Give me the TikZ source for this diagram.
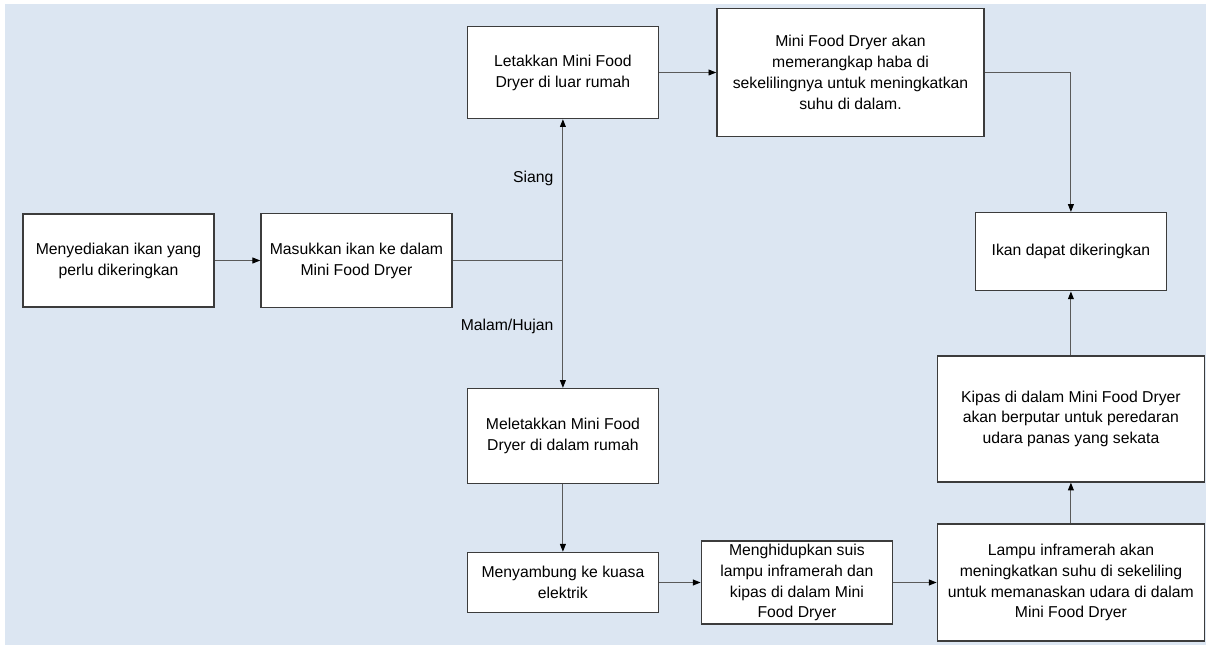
\documentclass[tikz,border=0pt]{standalone}
\usepackage{fontspec}
\setmainfont{Liberation Sans}
\usepackage{tikz}
\usetikzlibrary{arrows.meta}
\definecolor{bgblue}{HTML}{DCE6F2}
\definecolor{linegray}{HTML}{5A5A5A}
\definecolor{boxgray}{HTML}{3C3C3C}

\begin{document}
\begin{tikzpicture}[->,>={Triangle[length=5.5pt,width=4.2pt,color=black]},font=\fontsize{11.2}{14.9}\selectfont,
    conn/.style={draw=linegray,line width=0.7pt},
    flow box/.style={rectangle,draw=boxgray,line width=1.1pt,fill=white,align=center,minimum width=4.775cm,inner sep=2pt},
    wide box/.style={flow box,minimum width=6.675cm}]
    \fill[bgblue] (-2.8375,6.4125) rectangle (27.1875,-9.6125);
    \useasboundingbox (-2.9625,6.5125) rectangle (27.2375,-9.6375);
    \node[flow box,minimum height=2.325cm] (prep) {Menyediakan ikan yang\\perlu dikeringkan};
    \node[flow box,minimum height=2.35cm] (insert) [right of=prep,node distance=5.95cm] {Masukkan ikan ke dalam\\Mini Food Dryer};
    \coordinate[right of=insert,node distance=5.16cm] (split);
    \node[flow box,minimum height=2.3cm] (outside) [above of=split,node distance=4.7cm] {Letakkan Mini Food\\Dryer di luar rumah};
    \node[wide box,minimum height=3.2cm] (trap) [right of=outside,node distance=7.19cm] {Mini Food Dryer akan\\memerangkap haba di\\sekelilingnya untuk meningkatkan\\suhu di dalam.};
    \node[flow box,minimum height=2.375cm] (inside) [below of=split,node distance=4.39cm] {Meletakkan Mini Food\\Dryer di dalam rumah};
    \node[flow box,minimum height=1.5cm] (plug) [below of=inside,node distance=3.66cm] {Menyambung ke kuasa\\elektrik};
    \node[flow box,minimum height=2.025cm] (switch) [right of=plug,node distance=5.85cm] {Menghidupkan suis\\lampu inframerah dan\\kipas di dalam Mini\\Food Dryer};
    \node[wide box,minimum height=2.925cm] (lamp) [right of=switch,node distance=6.85cm] {Lampu inframerah akan\\meningkatkan suhu di sekeliling\\untuk memanaskan udara di dalam\\Mini Food Dryer};
    \node[wide box,minimum height=3.15cm] (fan) [above of=lamp,node distance=4.09cm] {Kipas di dalam Mini Food Dryer\\akan berputar untuk peredaran\\udara panas yang sekata};
    \node[flow box,minimum height=1.95cm] (dry) [above of=fan,node distance=4.18cm] {Ikan dapat dikeringkan};

    \draw[conn] (prep) -- (insert);
    \draw[conn,-] (insert) -- (split);
    \draw[conn] (split) -- node[left=3pt,pos=0.58] {Siang} (outside);
    \draw[conn] (split) -- node[left=3pt,pos=0.52] {Malam/Hujan} (inside);
    \draw[conn] (outside) -- (trap);
    \draw[conn] (trap) -| (dry);
    \draw[conn] (inside) -- (plug);
    \draw[conn] (plug) -- (switch);
    \draw[conn] (switch) -- (lamp);
    \draw[conn] (lamp) -- (fan);
    \draw[conn] (fan) -- (dry);
  \end{tikzpicture}
\end{document}
